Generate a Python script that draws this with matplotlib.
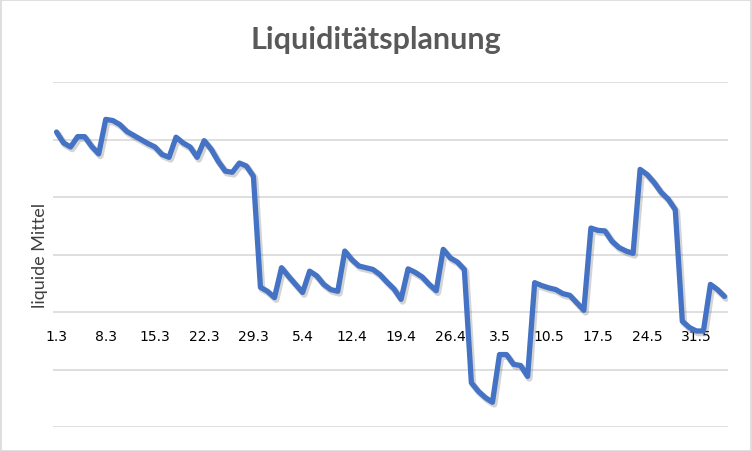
import matplotlib
matplotlib.use("Agg")
import matplotlib.pyplot as plt
import matplotlib.patheffects as pe
from matplotlib.patches import Rectangle
import pandas as pd

# daily liquidity (arbitrary units, one gridline = 1)
values = [
    3.13, 2.94, 2.87, 3.05, 3.05, 2.88, 2.75, 3.35, 3.33, 3.26,
    3.14, 3.07, 3.00, 2.93, 2.87, 2.74, 2.69, 3.04, 2.94, 2.87,
    2.69, 2.98, 2.83, 2.62, 2.45, 2.43, 2.59, 2.54, 2.36, 0.43,
    0.36, 0.25, 0.77, 0.62, 0.48, 0.34, 0.71, 0.63, 0.48, 0.39,
    0.36, 1.06, 0.91, 0.80, 0.77, 0.74, 0.65, 0.52, 0.40, 0.22,
    0.75, 0.69, 0.61, 0.48, 0.37, 1.09, 0.94, 0.87, 0.74, -1.23,
    -1.38, -1.49, -1.57, -0.74, -0.74, -0.91, -0.93, -1.12, 0.51, 0.46,
    0.42, 0.39, 0.32, 0.29, 0.16, 0.03, 1.46, 1.42, 1.41, 1.23,
    1.12, 1.06, 1.02, 2.48, 2.39, 2.25, 2.08, 1.96, 1.78, -0.16,
    -0.27, -0.33, -0.33, 0.48, 0.39, 0.27,
]
dates = pd.date_range("2021-03-01", periods=len(values), freq="D")
categories = [f"{d.day}.{d.month}" for d in dates]
tick_labels = ["1.3", "8.3", "15.3", "22.3", "29.3", "5.4", "12.4",
               "19.4", "26.4", "3.5", "10.5", "17.5", "24.5", "31.5"]
title = "Liquiditätsplanung"
ylabel = "liquide Mittel"

W, H = 752, 452
fig = plt.figure(figsize=(W / 100, H / 100), dpi=100)
left, right, top, bottom = 53, 728, 83, 428
ax = fig.add_axes([left / W, 1 - bottom / H, (right - left) / W, (bottom - top) / H])

x = list(range(len(values)))
ax.plot(x, values, color="#4472C4", lw=3.8, solid_joinstyle="round",
        solid_capstyle="round", zorder=3,
        path_effects=[pe.SimpleLineShadow(offset=(1.2, -1.5), shadow_color="#555555",
                                          alpha=0.25, linewidth=4.7),
                      pe.Normal()])

ax.set_xlim(-0.5, len(values) - 0.5)
ax.set_ylim(-2, 4)
ax.set_yticks(range(-2, 5))
ax.yaxis.grid(True, color="#d9d9d9", lw=1.2)
ax.set_axisbelow(True)
ax.tick_params(axis="y", length=0, labelleft=False)

tick_pos = [categories.index(t) for t in tick_labels]
ax.set_xticks(tick_pos)
ax.set_xticklabels(tick_labels, fontname="Lato", fontsize=11.5, color="#595959")
ax.spines["bottom"].set_position(("data", 0))
for s in ax.spines.values():
    s.set_visible(False)
ax.tick_params(axis="x", length=0, pad=12.5)

ax.set_ylabel(ylabel, fontname="Lato", fontsize=13, color="#404040", labelpad=3.5)

fig.text(376 / W, 1 - 40 / H, title, ha="center", va="center",
         fontname="Lato", fontweight="bold", fontsize=22, color="#595959")

fig.patches.append(Rectangle((0.5 / W, 0.5 / H), 1 - 1.5 / W, 1 - 1.5 / H,
                             transform=fig.transFigure, fill=False,
                             edgecolor="#d9d9d9", lw=1.2))

fig.savefig("out.png", dpi=100)
